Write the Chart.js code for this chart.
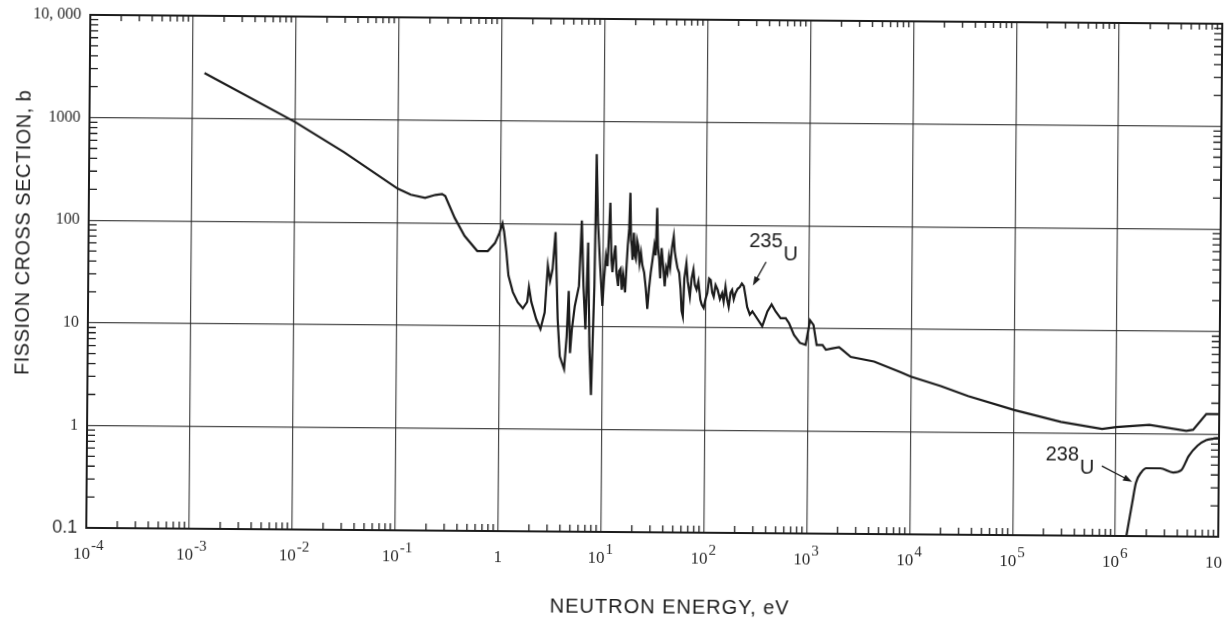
<!DOCTYPE html>
<html>
<head>
<meta charset="utf-8">
<script src="https://cdn.jsdelivr.net/npm/chart.js@4.4.0/dist/chart.umd.min.js"></script>
<style>
  html, body { margin: 0; padding: 0; background: #fff; }
  /* the scanned figure sits slightly tilted on the page */
  .chart-container { position: relative; width: 1225px; height: 620px; transform: rotate(0.45deg); }
</style>
</head>
<body>
<div class="chart-container"><canvas id="myChart"></canvas></div>
<script>
// 235U fission cross section, b  vs  neutron energy, eV
const u235Energy = [
  1.3e-3, 0.01, 0.03, 0.1, 0.134, 0.185, 0.233, 0.27, 0.29, 0.36, 0.45, 0.6, 0.76, 0.89, 0.98,
  1.05, 1.09, 1.15, 1.21, 1.34, 1.5, 1.68, 1.85, 1.92, 2.03, 2.27, 2.5, 2.74, 2.92, 3.08, 3.25,
  3.45, 3.67, 3.87, 4.27, 4.5, 4.68, 4.86, 5.05, 5.37, 5.88, 6.2, 6.5, 6.83, 7.17, 7.5, 7.83,
  8.3, 8.55, 8.9, 9.4, 9.95, 10.3, 10.7, 11.1, 11.7, 12.1, 12.4, 12.8, 13.2, 13.6, 14.1, 14.4,
  14.9, 15.3, 15.8, 16.5, 17.0, 17.4, 17.9, 18.3, 18.7, 19.0, 19.4, 19.9, 20.4, 20.9, 21.4, 22.0,
  22.7, 23.4, 24.2, 25.2, 26.2, 27.2, 28.2, 29.2, 30.3, 31.5, 32.5, 33.4, 34.2, 35.2, 36.1, 37.1,
  38.5, 40, 41.2, 42.5, 43.8, 45.1, 46.8, 48.6, 49.8, 51.2, 53, 55.2, 57, 58.6, 60.3, 62, 64.8,
  67, 70.4, 73, 75.9, 78.5, 81.7, 85, 89, 92, 96, 100, 104, 108, 112, 116, 120, 125, 131, 138,
  145, 150, 156, 162, 168, 175, 181, 188, 195, 205, 215, 225, 235, 245, 254, 270, 286, 357, 400,
  439, 481, 538, 603, 650, 727, 832, 945, 1040, 1125, 1210, 1380, 1490, 1730, 2000, 2160, 2600,
  4390, 7990, 1e4, 19600, 36100, 1.02e5, 2.9e5, 7.3e5, 1e6, 2.1e6, 4.8e6, 5.6e6, 7.5e6, 1e7
];
const u235Sigma = [
  2770, 935, 480, 214, 187, 175, 187, 191, 183, 112, 75, 53.5, 53.5, 64, 80,
  100, 83, 53, 31, 21.4, 17, 14.9, 17.2, 24, 17.2, 11.7, 9.4, 13.6, 39, 27.8, 36.2,
  83, 11.7, 5.1, 3.85, 8.0, 22.2, 5.5, 9.4, 15.8, 24.9, 108, 24.9, 9.4, 66, 6.4, 2.15,
  25, 480, 104, 40, 16, 30, 49, 39, 162, 45, 34, 50, 62, 33, 25, 35,
  37, 23, 32, 21.7, 40, 62, 90, 203, 70, 62, 45, 83, 50, 46, 70, 62,
  42, 53, 40, 34, 24, 15, 24, 34, 45, 62, 50, 145, 60, 46, 30, 59,
  40, 25, 38, 34, 48, 39, 60, 77, 55, 46, 38, 34, 24, 14.5, 12.8, 30, 42,
  28, 20, 30, 36.6, 26, 23.4, 28, 18.7, 16.7, 15.5, 19, 21.7, 30, 29, 22, 20, 26, 23.4, 19,
  21.7, 18, 25, 19, 16, 22, 23.4, 19, 21.7, 24, 25, 27, 25.5, 20, 16, 13.5, 14.5, 10.4, 14.5,
  17, 14.5, 12.5, 12.5, 11.2, 8.6, 7.2, 6.9, 12, 10.8, 6.9, 6.9, 6.2, 6.4, 6.6, 6.2, 5.3,
  4.8, 3.8, 3.45, 2.8, 2.25, 1.66, 1.28, 1.1, 1.15, 1.22, 1.07, 1.1, 1.57, 1.57
];

// 238U fission cross section
const u238Energy = [1.28e6, 1.45e6, 1.57e6, 1.77e6, 1.98e6, 2.7e6, 3.6e6, 4.3e6, 5.1e6, 6.2e6, 7.5e6, 8.7e6, 1e7];
const u238Sigma = [0.1, 0.21, 0.33, 0.42, 0.46, 0.46, 0.42, 0.44, 0.61, 0.77, 0.87, 0.9, 0.92];

// axis ticks
const xTicks = [1e-4, 1e-3, 1e-2, 1e-1, 1, 1e1, 1e2, 1e3, 1e4, 1e5, 1e6, 1e7];
const xTickBase = ['10', '10', '10', '10', '1', '10', '10', '10', '10', '10', '10', '10'];
const xTickExp = ['-4', '-3', '-2', '-1', '', '1', '2', '3', '4', '5', '6', '7'];
const yTicks = [0.1, 1, 10, 100, 1000, 10000];
const yTickLabels = ['0.1', '1', '10', '100', '1000', '10, 000'];

// curve labels (text anchor and arrow, in data units)
const notes = [
  { text: '235', sub: 'U', at: [263, 69], from: [385, 44], to: [288, 25.9] },
  { text: '238', sub: 'U', at: [2.07e5, 0.61], from: [7.3e5, 0.48], to: [1.44e6, 0.338] }
];

const ink = '#1c1c1c';

function arrow(ctx, x1, y1, x2, y2) {
  const ang = Math.atan2(y2 - y1, x2 - x1);
  ctx.beginPath();
  ctx.moveTo(x1, y1);
  ctx.lineTo(x2 - 6 * Math.cos(ang), y2 - 6 * Math.sin(ang));
  ctx.stroke();
  ctx.beginPath();
  ctx.moveTo(x2, y2);
  ctx.lineTo(x2 - 9 * Math.cos(ang) + 3.2 * Math.sin(ang), y2 - 9 * Math.sin(ang) - 3.2 * Math.cos(ang));
  ctx.lineTo(x2 - 9 * Math.cos(ang) - 3.2 * Math.sin(ang), y2 - 9 * Math.sin(ang) + 3.2 * Math.cos(ang));
  ctx.closePath();
  ctx.fill();
}

const paperPlugin = {
  id: 'paper',
  afterDraw(chart) {
    const { ctx, chartArea: a, scales: { x, y } } = chart;
    ctx.save();
    ctx.strokeStyle = ink;
    ctx.fillStyle = ink;

    // minor ticks, pointing inward on all four sides
    ctx.lineWidth = 1.3;
    ctx.beginPath();
    for (let d = -4; d < 7; d++) {
      for (let k = 2; k <= 9; k++) {
        const px = x.getPixelForValue(k * Math.pow(10, d));
        ctx.moveTo(px, a.bottom); ctx.lineTo(px, a.bottom - 7);
        ctx.moveTo(px, a.top); ctx.lineTo(px, a.top + 6);
      }
    }
    for (let d = -1; d < 4; d++) {
      for (let k = 2; k <= 9; k++) {
        const py = y.getPixelForValue(k * Math.pow(10, d));
        ctx.moveTo(a.left, py); ctx.lineTo(a.left + 8, py);
        ctx.moveTo(a.right, py); ctx.lineTo(a.right - 8, py);
      }
    }
    ctx.stroke();

    // frame
    ctx.lineWidth = 2;
    ctx.strokeRect(a.left, a.top, a.right - a.left, a.bottom - a.top);

    // x tick labels with raised exponents
    ctx.fillStyle = '#2a2a2a';
    ctx.textBaseline = 'middle';
    xTicks.forEach((v, i) => {
      const px = x.getPixelForValue(v);
      ctx.font = '17px "Liberation Serif"';
      if (!xTickExp[i]) {
        ctx.textAlign = 'center';
        ctx.fillText(xTickBase[i], px, a.bottom + 27);
        return;
      }
      ctx.textAlign = 'right';
      ctx.fillText(xTickBase[i], px + 4, a.bottom + 27);
      ctx.font = '15px "Liberation Serif"';
      ctx.textAlign = 'left';
      ctx.fillText(xTickExp[i], px + 5, a.bottom + 18);
    });

    // axis titles
    ctx.fillStyle = ink;
    ctx.font = '20px "Liberation Sans"';
    ctx.textAlign = 'center';
    ctx.letterSpacing = '1px';
    ctx.fillText('NEUTRON ENERGY, eV', 672, 607);
    ctx.save();
    ctx.translate(23, 237);
    ctx.rotate(-Math.PI / 2);
    ctx.letterSpacing = '0.5px';
    ctx.fillText('FISSION CROSS SECTION, b', 0, 0);
    ctx.restore();
    ctx.letterSpacing = '0px';

    // curve labels
    ctx.lineWidth = 1.3;
    notes.forEach((n) => {
      const tx = x.getPixelForValue(n.at[0]);
      const ty = y.getPixelForValue(n.at[1]);
      ctx.font = '20px "Liberation Sans"';
      ctx.textAlign = 'left';
      ctx.fillText(n.text, tx, ty);
      const w = ctx.measureText(n.text).width;
      ctx.fillText(n.sub, tx + w + 1, ty + 13);
      arrow(ctx,
        x.getPixelForValue(n.from[0]), y.getPixelForValue(n.from[1]),
        x.getPixelForValue(n.to[0]), y.getPixelForValue(n.to[1]));
    });
    ctx.restore();
  }
};

const isDecade = (v) => Math.abs(Math.log10(v) - Math.round(Math.log10(v))) < 1e-9;

var ctx = document.getElementById('myChart');
var myChart = new Chart(ctx, {
  type: 'line',
  data: {
    datasets: [
      {
        label: '235U',
        data: u235Energy.map((e, i) => ({ x: e, y: u235Sigma[i] })),
        borderColor: ink,
        borderWidth: 2.2,
        pointRadius: 0,
        fill: false,
        tension: 0
      },
      {
        label: '238U',
        data: u238Energy.map((e, i) => ({ x: e, y: u238Sigma[i] })),
        borderColor: ink,
        borderWidth: 2.2,
        pointRadius: 0,
        fill: false,
        cubicInterpolationMode: 'monotone'
      }
    ]
  },
  options: {
    responsive: true,
    maintainAspectRatio: false,
    animation: false,
    devicePixelRatio: 1,
    layout: { padding: { top: 19, right: 5, left: 0, bottom: 0 } },
    plugins: { legend: { display: false }, tooltip: { enabled: false } },
    scales: {
      x: {
        type: 'logarithmic',
        min: 1e-4,
        max: 1e7,
        afterBuildTicks: (s) => { s.ticks = xTicks.map((v) => ({ value: v })); },
        afterFit: (s) => { s.height = 88; },
        ticks: { display: false },
        grid: { color: 'rgba(40,40,40,0.85)', lineWidth: 1.2, drawTicks: false },
        border: { display: false }
      },
      y: {
        type: 'logarithmic',
        min: 0.1,
        max: 10000,
        afterBuildTicks: (s) => { s.ticks = yTicks.map((v) => ({ value: v })); },
        afterFit: (s) => { s.width = 88; },
        ticks: {
          padding: 9,
          color: '#2a2a2a',
          autoSkip: false,
          callback: (v, i) => yTickLabels[i],
          font: (c) => (c.tick && isDecade(c.tick.value) && c.tick.value < 0.5)
            ? { family: 'Liberation Sans', size: 18 }
            : { family: 'Liberation Serif', size: 16 }
        },
        grid: { color: (c) => isDecade(c.tick.value) ? 'rgba(40,40,40,0.85)' : 'transparent', lineWidth: 1.2, drawTicks: false },
        border: { display: false }
      }
    }
  },
  plugins: [paperPlugin]
});
</script>
</body>
</html>
